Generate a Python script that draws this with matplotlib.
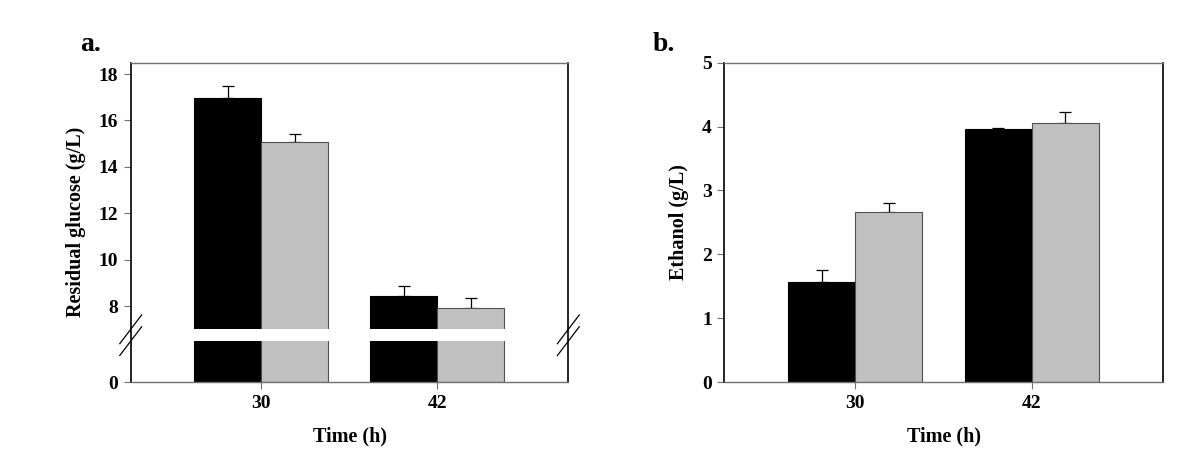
import numpy as np
import matplotlib
matplotlib.use('Agg')
import matplotlib.pyplot as plt

plt.rcParams['font.family'] = ['Liberation Serif', 'DejaVu Serif']
plt.rcParams['font.weight'] = 'bold'

# data
times = ['30', '42']
glucose_black = [16.95, 8.45]
glucose_black_err = [0.52, 0.42]
glucose_grey = [15.07, 7.90]
glucose_grey_err = [0.36, 0.43]
ethanol_black = [1.56, 3.96]
ethanol_black_err = [0.20, 0.02]
ethanol_grey = [2.66, 4.05]
ethanol_grey_err = [0.14, 0.18]

# broken y scale for panel a: 0..7 compressed, 7..18.5 linear
brk_src = np.array([0.0, 7.0, 100.0])
brk_dst = np.array([0.0, 52.8, 52.8 + 93 * 23.2])


def fwd(y):
    return np.interp(y, brk_src, brk_dst, left=-1e9, right=None)


def inv(t):
    return np.interp(t, brk_dst, brk_src)


BLACK = '#000000'
GREY = '#c0c0c0'
width = 0.38
x = np.arange(len(times))


def style_axes(ax):
    for s in ['left', 'right']:
        ax.spines[s].set_color('black')
        ax.spines[s].set_linewidth(1.2)
    for s in ['top', 'bottom']:
        ax.spines[s].set_color('#707070')
        ax.spines[s].set_linewidth(1.0)
    ax.tick_params(axis='y', direction='out', length=5, width=0.8, color='#707070',
                   labelsize=14, pad=4)
    ax.tick_params(axis='x', direction='out', length=5, width=0.8, color='#707070',
                   labelsize=14, pad=4)
    ax.set_xticks(x)
    ax.set_xticklabels(times)
    ax.set_xlim(-0.74, 1.743)
    ax.set_xlabel('Time (h)', fontsize=14.5, fontweight='bold', labelpad=11)


def draw_bars(ax, b, be, g, ge):
    ax.bar(x - width / 2, b, width, color=BLACK, edgecolor=BLACK, linewidth=0.8, zorder=2)
    ax.bar(x + width / 2, g, width, color=GREY, edgecolor='#505050', linewidth=0.8, zorder=2)
    ax.errorbar(x - width / 2, b, yerr=[np.zeros(len(b)), be], fmt='none', ecolor=BLACK,
                elinewidth=0.9, capsize=4, capthick=0.9, zorder=1)
    ax.errorbar(x + width / 2, g, yerr=[np.zeros(len(g)), ge], fmt='none', ecolor=BLACK,
                elinewidth=0.9, capsize=4, capthick=0.9, zorder=1)


fig = plt.figure(figsize=(11.98, 4.67), dpi=100)

# panel a
ax1 = fig.add_axes([0.1091, 0.182, 0.3653, 0.6837])
ax1.set_yscale('function', functions=(fwd, inv))
draw_bars(ax1, glucose_black, glucose_black_err, glucose_grey, glucose_grey_err)
ax1.set_ylim(0, 18.49)
ax1.set_yticks([0, 8, 10, 12, 14, 16, 18])
ax1.set_yticklabels(['0', '8', '10', '12', '14', '16', '18'])
style_axes(ax1)
ax1.set_ylabel('Residual glucose (g/L)', fontsize=14.5, fontweight='bold', labelpad=9)
# white break band across the bars
band_lo = inv(41.3)
for xi in x:
    ax1.fill_between([xi - width - 0.005, xi + width + 0.005], band_lo, 7.0,
                     color='white', linewidth=0, zorder=3)
# break marks on both spines
for xs in (0.0, 1.0):
    for yc in (0.128, 0.165):
        ax1.plot([xs - 0.025, xs + 0.025], [yc - 0.045, yc + 0.045], color='black', lw=0.9,
                 transform=ax1.transAxes, clip_on=False, zorder=5)
fig.text(0.067, 0.905, 'a.', fontsize=20, fontweight='bold', ha='left', va='center')

# panel b
ax2 = fig.add_axes([0.6046, 0.182, 0.3664, 0.6837])
draw_bars(ax2, ethanol_black, ethanol_black_err, ethanol_grey, ethanol_grey_err)
ax2.set_ylim(0, 5)
ax2.set_yticks([0, 1, 2, 3, 4, 5])
style_axes(ax2)
ax2.set_ylabel('Ethanol (g/L)', fontsize=14.5, fontweight='bold', labelpad=9)
fig.text(0.545, 0.905, 'b.', fontsize=20, fontweight='bold', ha='left', va='center')

fig.savefig('out.png', dpi=100)
